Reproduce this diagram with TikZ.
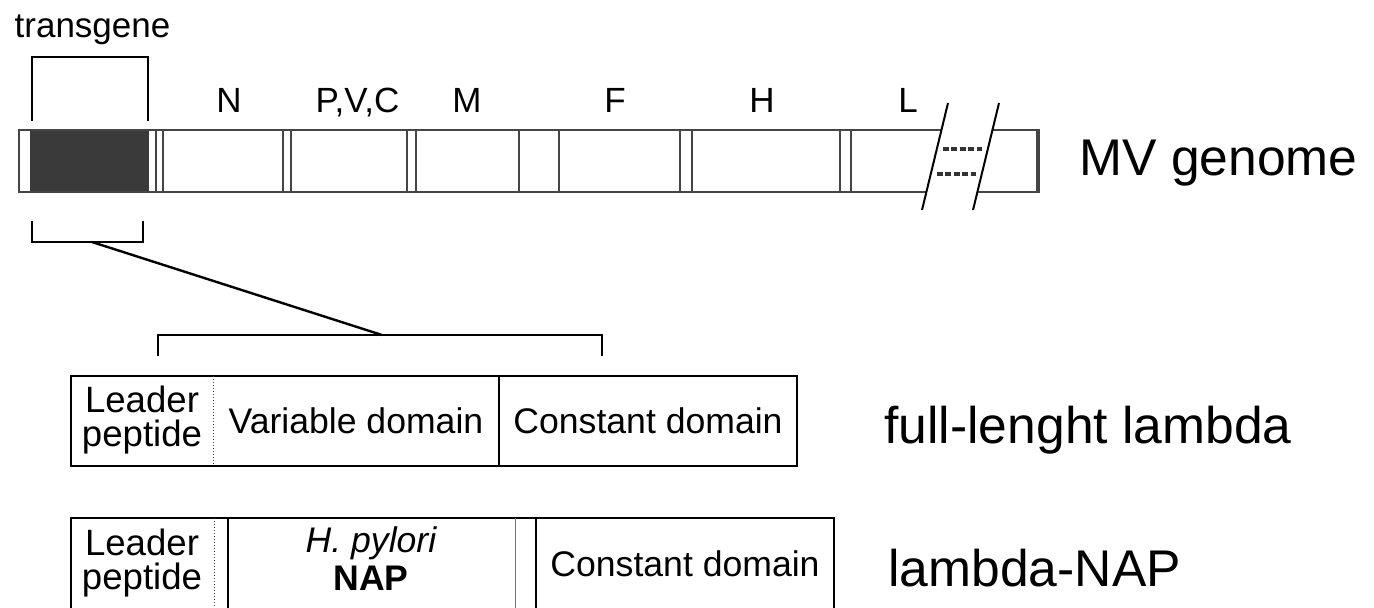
\documentclass[tikz,border=0pt]{standalone}
\usepackage{fontspec}
\setmainfont{Liberation Sans}
\definecolor{genomeline}{HTML}{454545}
\definecolor{transfill}{HTML}{3a3a3a}
\definecolor{dashcol}{HTML}{333333}
\tikzset{
  glabel/.style={font=\fontsize{17.5}{20}\selectfont, inner sep=0pt, anchor=base},
  biglabel/.style={font=\fontsize{25.8}{30}\selectfont, inner sep=0pt, anchor=base west},
  celltext/.style={font=\fontsize{17.8}{20}\selectfont, inner sep=0pt, align=center},
  leadtext/.style={font=\fontsize{18.3}{16.6}\selectfont, inner sep=0pt, align=center},
  gline/.style={draw=genomeline, line width=1.3pt},
  gsep/.style={draw=genomeline, line width=0.8pt},
  slash/.style={draw=black, line width=1pt},
  breakdash/.style={draw=dashcol, line width=2pt, dash pattern=on 3pt off 1.2pt},
  bracket/.style={draw=black, line width=1.2pt},
  boxline/.style={draw=black, line width=1pt},
  fineline/.style={draw=black!75, line width=0.5pt, densely dotted},
  thinsep/.style={draw=black!55, line width=0.5pt},
}
\begin{document}
\begin{tikzpicture}[x=0.5pt,y=-0.5pt]
\useasboundingbox (0,0) rectangle (1374,607);
\clip (0,0) rectangle (1374,607);

% ---- MV genome bar ----
\fill[transfill] (30,131) rectangle (149,191);
\foreach \sx in {156,163,283,291,407,416,519,559,680,692,840,851}
  \draw[gsep] (\sx,130) -- (\sx,192);
\draw[gline] (941.4,130) -- (19,130) -- (19,192) -- (926.4,192);
\draw[gline] (992.4,130) -- (1038,130) -- (1038,192) -- (977.4,192);
\draw[genomeline, line width=2pt] (1038,129.4) -- (1038,192.6);
% break marks
\draw[slash] (948,103) -- (922,210);
\draw[slash] (999,103) -- (973,210);
\draw[breakdash] (943,149) -- (982,149);
\draw[breakdash] (937,174) -- (976,174);

% gene labels
\node[glabel] (lN) at (229,112) {N};
\node[glabel] (lP) at (357.5,112) {P,V,C};
\node[glabel] (lM) at (467,112) {M};
\node[glabel] (lF) at (615,112) {F};
\node[glabel] (lH) at (762,112) {H};
\node[glabel] (lL) at (908,112) {L};
\node[glabel] (tg) at (92.5,37) {transgene};
\node[biglabel] (mv) at (1079,175) {MV genome};

% ---- brackets ----
\draw[bracket] (32,121) -- (32,57) -- (148,57) -- (148,121);
\draw[bracket] (32,221) -- (32,242) -- (143,242) -- (143,221);
\coordinate (upper) at (92,242);
\coordinate (lower) at (382,335);
\draw[bracket] (upper) -- (lower);
\draw[bracket] (158,356) -- (158,335) -- (602,335) -- (602,356);

% ---- full-length lambda ----
\draw[boxline] (71,376) rectangle (797,466);
\draw[fineline] (213,376) -- (213,466);
\draw[boxline] (499,376) -- (499,466);
\node[leadtext] (fl1) at (142,420) {Leader\\peptide};
\node[celltext] (fl2) at (356,421) {Variable domain};
\node[celltext] (fl3) at (648,421) {Constant domain};
\node[biglabel] (full) at (884,443) {full-lenght lambda};

% ---- lambda-NAP ----
\draw[boxline] (71,518) rectangle (834,612);
\draw[fineline] (214,518) -- (214,612);
\draw[boxline] (228,518) -- (228,612);
\draw[thinsep] (515,518) -- (515,612);
\draw[boxline] (536,518) -- (536,612);
\node[leadtext] (nl1) at (142,563) {Leader\\peptide};
\node[celltext, anchor=base, font=\fontsize{17.8}{20}\itshape] (hp) at (371,552) {H. pylori};
\node[celltext, anchor=base, font=\fontsize{17.8}{20}\bfseries] (nap) at (371,590) {NAP};
\node[celltext] (nl3) at (685,564) {Constant domain};
\node[biglabel] (lnap) at (888,586) {lambda-NAP};
\end{tikzpicture}
\end{document}
